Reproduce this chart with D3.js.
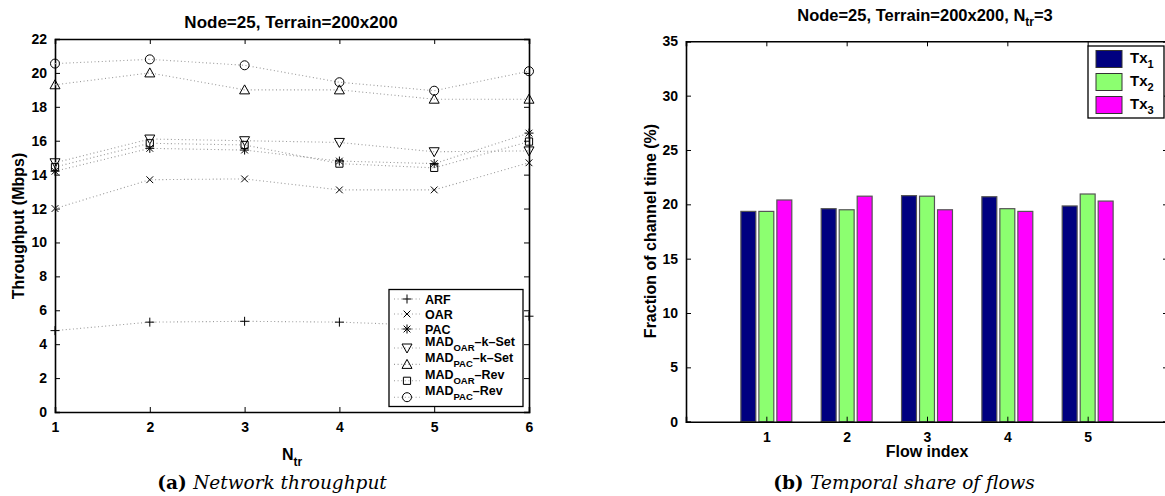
<!DOCTYPE html>
<html>
<head>
<meta charset="utf-8">
<script src="https://cdn.jsdelivr.net/npm/d3@7"></script>
<style>
  body { margin: 0; background: #fff; }
  svg { display: block; }
  text { font-family: "Liberation Sans", Arial, sans-serif; font-weight: bold; fill: #000; }
  .cap { font-family: "DejaVu Serif", serif; font-weight: normal; }
</style>
</head>
<body>
<svg width="1165" height="496"></svg>
<script>
// ---- data (a) network throughput
const nTr = [1, 2, 3, 4, 5, 6]
const arf = [4.8, 5.3, 5.35, 5.3, 5.1, 5.65]
const oar = [12.0, 13.7, 13.75, 13.1, 13.1, 14.7]
const pac = [14.2, 15.55, 15.45, 14.8, 14.65, 16.45]
const madOarK = [14.7, 16.1, 16.0, 15.9, 15.35, 15.4]
const madPacK = [19.3, 20.0, 19.0, 19.0, 18.45, 18.45]
const madOarRev = [14.45, 15.85, 15.75, 14.65, 14.4, 15.95]
const madPacRev = [20.55, 20.8, 20.45, 19.45, 18.95, 20.1]
const yTicksL = [0, 2, 4, 6, 8, 10, 12, 14, 16, 18, 20, 22]

// ---- data (b) temporal share of flows
const flows = [1, 2, 3, 4, 5]
const tx1 = [19.35, 19.6, 20.8, 20.7, 19.85]
const tx2 = [19.35, 19.5, 20.75, 19.6, 20.95]
const tx3 = [20.4, 20.75, 19.5, 19.35, 20.3]
const yTicksR = [0, 5, 10, 15, 20, 25, 30, 35]

const svg = d3.select('svg')

// marker shapes, drawn as thin outlines like matlab
const r = 4.5
const markers = {
  plus: p => { p.moveTo(-r, 0); p.lineTo(r, 0); p.moveTo(0, -r); p.lineTo(0, r) },
  cross: p => { const a = r * 0.75; p.moveTo(-a, -a); p.lineTo(a, a); p.moveTo(-a, a); p.lineTo(a, -a) },
  star: p => { markers.plus(p); markers.cross(p) },
  tridown: p => { p.moveTo(-r - 0.5, -r + 0.5); p.lineTo(r + 0.5, -r + 0.5); p.lineTo(0, r + 0.5); p.closePath() },
  triup: p => { p.moveTo(-r - 0.5, r - 0.5); p.lineTo(r + 0.5, r - 0.5); p.lineTo(0, -r - 0.5); p.closePath() },
  square: p => { const a = r * 0.8; p.rect(-a, -a, 2 * a, 2 * a) },
  circle: p => { p.moveTo(r, 0); p.arc(0, 0, r, 0, 2 * Math.PI) }
}
const markerPath = name => { const p = d3.path(); markers[name](p); return p.toString() }

const series = [
  { name: 'ARF', sub: null, tail: '', values: arf, marker: 'plus' },
  { name: 'OAR', sub: null, tail: '', values: oar, marker: 'cross' },
  { name: 'PAC', sub: null, tail: '', values: pac, marker: 'star' },
  { name: 'MAD', sub: 'OAR', tail: '\u2013k\u2013Set', values: madOarK, marker: 'tridown' },
  { name: 'MAD', sub: 'PAC', tail: '\u2013k\u2013Set', values: madPacK, marker: 'triup' },
  { name: 'MAD', sub: 'OAR', tail: '\u2013Rev', values: madOarRev, marker: 'square' },
  { name: 'MAD', sub: 'PAC', tail: '\u2013Rev', values: madPacRev, marker: 'circle' },
]

// ================= left chart =================
const xL = d3.scaleLinear().domain([1, 6]).range([55, 529])
const yL = d3.scaleLinear().domain([0, 22]).range([412, 39])
const gL = svg.append('g')

const boxAxes = (g, x, y, xt, yt, xfmt) => {
  const [x0, x1] = x.range(), [y0, y1] = y.range()
  g.append('g').attr('transform', `translate(0,${y0})`)
    .call(d3.axisBottom(x).tickValues(xt).tickSize(-5).tickPadding(10).tickFormat(xfmt))
  g.append('g').attr('transform', `translate(0,${y1})`)
    .call(d3.axisTop(x).tickValues(xt).tickSize(-5).tickFormat(''))
  g.append('g').attr('transform', `translate(${x0},0)`)
    .call(d3.axisLeft(y).tickValues(yt).tickSize(-5).tickPadding(8))
  g.append('g').attr('transform', `translate(${x1},0)`)
    .call(d3.axisRight(y).tickValues(yt).tickSize(-5).tickFormat(''))
  g.selectAll('.domain').attr('stroke', '#000').attr('stroke-width', 1.6)
  g.selectAll('.tick line').attr('stroke', '#000')
  g.selectAll('.tick text').attr('font-size', 14).attr('font-family', '"Liberation Sans", Arial, sans-serif').attr('font-weight', 'bold')
}

boxAxes(gL, xL, yL, nTr, yTicksL, d3.format('d'))

const line = d3.line().x((d, i) => xL(nTr[i])).y(d => yL(d))

series.forEach(s => {
  gL.append('path')
    .attr('d', line(s.values))
    .attr('fill', 'none')
    .attr('stroke', '#999')
    .attr('stroke-width', 1.1)
    .attr('stroke-dasharray', '1,2.6')
  gL.selectAll(null)
    .data(s.values)
    .enter()
    .append('path')
    .attr('transform', (d, i) => `translate(${xL(nTr[i])},${yL(d)})`)
    .attr('d', markerPath(s.marker))
    .attr('fill', 'none')
    .attr('stroke', '#000')
    .attr('stroke-width', 1)
})

gL.append('text').attr('x', 291).attr('y', 28).attr('text-anchor', 'middle')
  .attr('font-size', 17).text('Node=25, Terrain=200x200')

gL.append('text').attr('transform', 'translate(24,226) rotate(-90)')
  .attr('text-anchor', 'middle').attr('font-size', 16).text('Throughput (Mbps)')

const xlab = gL.append('text').attr('x', 282).attr('y', 460).attr('font-size', 16)
xlab.append('tspan').text('N')
xlab.append('tspan').attr('font-size', 12).attr('dy', 6).text('tr')

const capA = gL.append('text').attr('class', 'cap').attr('x', 272).attr('y', 489)
  .attr('text-anchor', 'middle').attr('font-size', 18.5)
capA.append('tspan').attr('font-weight', 'bold').text('(a) ')
capA.append('tspan').attr('font-style', 'italic').text('Network throughput')

// legend
const legL = gL.append('g')
legL.append('rect').attr('x', 389).attr('y', 289.5).attr('width', 134).attr('height', 117)
  .attr('fill', '#fff').attr('stroke', '#000').attr('stroke-width', 1.3)
let ly = 299
series.forEach((s, i) => {
  if (s.sub && i > 0) ly += (series[i - 1].sub ? 16.4 : 19)
  else if (i > 0) ly += 15
  const row = legL.append('g').attr('transform', `translate(0,${ly})`)
  row.append('line').attr('x1', 394).attr('x2', 420).attr('y1', 0).attr('y2', 0)
    .attr('stroke', '#999').attr('stroke-width', 1.1).attr('stroke-dasharray', '1,2.6')
  row.append('path').attr('transform', 'translate(407,0)').attr('d', markerPath(s.marker))
    .attr('fill', 'none').attr('stroke', '#000')
  const t = row.append('text').attr('x', 425).attr('y', s.sub ? -2 : 4.5).attr('font-size', 12.5)
  t.append('tspan').text(s.name)
  if (s.sub) {
    t.append('tspan').attr('font-size', 9.5).attr('dy', 5).text(s.sub)
    t.append('tspan').attr('dy', -5).text(s.tail)
  }
})

// ================= right chart =================
const xR = d3.scaleLinear().domain([0, 6]).range([686, 1168])
const yR = d3.scaleLinear().domain([0, 35]).range([421.7, 41.3])
const gR = svg.append('g')

const txNames = ['1', '2', '3']
const txVals = [tx1, tx2, tx3]
const txColors = ['#000080', '#8cff70', '#ff00ff']
const xSub = d3.scaleBand().domain(txNames).range([-0.317, 0.317]).paddingInner(0.17)
const xw = d => xR(d) - xR(0)

txVals.forEach((vals, k) => {
  gR.selectAll(null)
    .data(vals)
    .enter()
    .append('rect')
    .attr('x', (d, i) => xR(flows[i] + xSub(txNames[k])))
    .attr('width', xw(xSub.bandwidth()))
    .attr('y', d => yR(d))
    .attr('height', d => yR(0) - yR(d))
    .attr('fill', txColors[k])
    .attr('stroke', '#555')
    .attr('stroke-width', 1.2)
})

boxAxes(gR, xR, yR, flows, yTicksR, d3.format('d'))

const tR = gR.append('text').attr('x', 925).attr('y', 21).attr('text-anchor', 'middle').attr('font-size', 16.5)
tR.append('tspan').text('Node=25, Terrain=200x200, N')
tR.append('tspan').attr('font-size', 12).attr('dy', 5).text('tr')
tR.append('tspan').attr('dy', -5).text('=3')

gR.append('text').attr('transform', 'translate(656,231) rotate(-90)')
  .attr('text-anchor', 'middle').attr('font-size', 16).text('Fraction of channel time (%)')

gR.append('text').attr('x', 927).attr('y', 457).attr('text-anchor', 'middle')
  .attr('font-size', 16).text('Flow index')

const capB = gR.append('text').attr('class', 'cap').attr('x', 904).attr('y', 489)
  .attr('text-anchor', 'middle').attr('font-size', 18.5)
capB.append('tspan').attr('font-weight', 'bold').text('(b) ')
capB.append('tspan').attr('font-style', 'italic').text('Temporal share of flows')

const legR = gR.append('g')
legR.append('rect').attr('x', 1088).attr('y', 46).attr('width', 76).attr('height', 72)
  .attr('fill', '#fff').attr('stroke', '#000').attr('stroke-width', 1.3)
txNames.forEach((n, k) => {
  const yy = 50.5 + k * 23
  legR.append('rect').attr('x', 1096).attr('y', yy).attr('width', 26).attr('height', 17)
    .attr('fill', txColors[k]).attr('stroke', '#333').attr('stroke-width', 1)
  const t = legR.append('text').attr('x', 1130).attr('y', yy + 12).attr('font-size', 15)
  t.append('tspan').text('Tx')
  t.append('tspan').attr('font-size', 11).attr('dy', 5).text(n)
})
</script>
</body>
</html>
